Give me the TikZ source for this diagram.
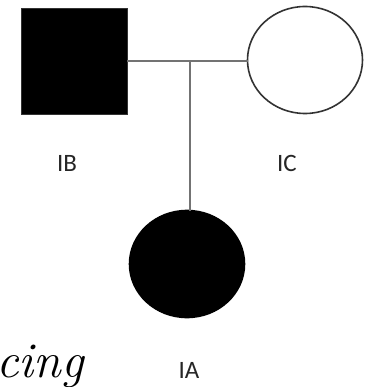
\documentclass[tikz,border=0pt]{standalone}
\usepackage{fontspec}
\setmainfont{Latin Modern Roman}
\newfontfamily\labfont{Carlito}
\usetikzlibrary{shapes.geometric}
\begin{document}
\begin{tikzpicture}[x=1pt,y=-1pt,
  person/.style={inner sep=0pt, outer sep=0pt},
  male/.style={person, rectangle, minimum width=106pt, minimum height=106pt, fill=black, draw=black!80, line width=0.6pt},
  female/.style={person, ellipse, minimum width=115pt, minimum height=107pt, line width=1.6pt},
  conn/.style={draw=black!55, line width=1.5pt},
  lab/.style={font=\labfont\fontsize{25}{25}\selectfont, text=black!85, inner sep=0pt}]
\useasboundingbox (0,0) rectangle (367,387);
\node[male] (IB) at (74,61) {};
\node[female, draw=black!80, fill=white] (IC) at (305,60) {};
\node[female, draw=black, fill=black] (IA) at (187,264) {};
\coordinate (m) at (190,61);
\draw[conn] (IB.east |- m) -- (IC.west |- m);
\draw[conn] (m) -- (m |- IA.north);
\node[lab] (lIB) at (67,163) {IB};
\node[lab] (lIC) at (287,163) {IC};
\node[lab] (lIA) at (189,370) {IA};
\node[anchor=base east, inner sep=0pt, font=\fontsize{50}{50}\selectfont\itshape] (cing) at (84,377) {cing};
\end{tikzpicture}
\end{document}
